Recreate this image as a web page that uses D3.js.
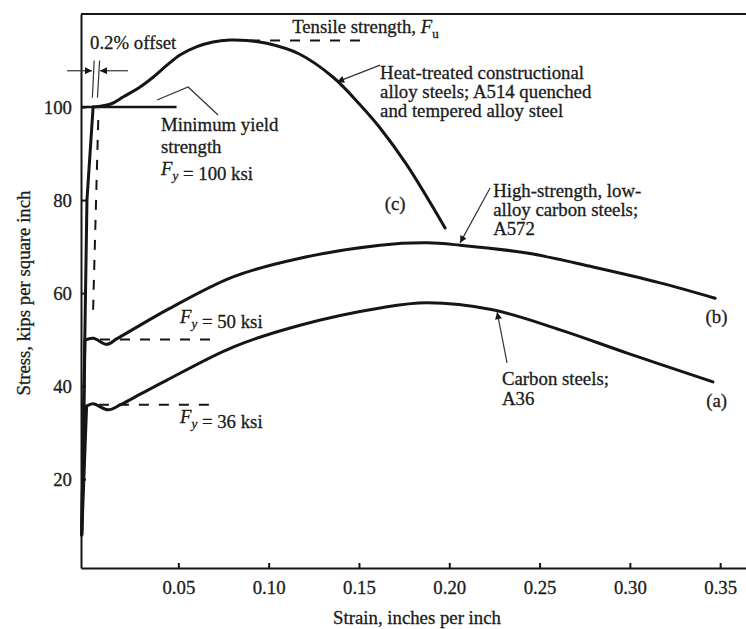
<!DOCTYPE html>
<html>
<head>
<meta charset="utf-8">
<script src="https://cdn.jsdelivr.net/npm/d3@7/dist/d3.min.js"></script>
<style>
  body { margin: 0; background: #fff; }
  svg text { font-family: "Liberation Serif", "Times New Roman", serif; font-size: 18.8px; fill: #1b1b1b; stroke: #1b1b1b; stroke-width: 0.3px; }
</style>
</head>
<body>
<div id="chart"></div>
<script>
// Strain (in/in) vs stress (ksi)
var xTicks = [0.05, 0.10, 0.15, 0.20, 0.25, 0.30, 0.35];
var yTicks = [20, 40, 60, 80, 100];

// (a) carbon steel A36
var elasticA = [[-0.0035, 8], [-0.0008, 35.7]];
var plasticA = [[-0.0008, 35.7], [0.0028, 36.2], [0.0111, 34.9], [0.018, 36.0], [0.03, 38.5],
  [0.0437, 41.3], [0.0803, 48.4], [0.1174, 53.1], [0.1617, 56.8], [0.1877, 57.9],
  [0.224, 56.4], [0.2614, 52.1], [0.2985, 47.1], [0.346, 40.9]];

// (b) high-strength low-alloy A572
var elasticB = [[-0.0035, 8], [-0.0017, 49.9]];
var plasticB = [[-0.0017, 49.9], [0.0029, 50.3], [0.0104, 49.0], [0.016, 50.2], [0.028, 52.9],
  [0.0437, 56.4], [0.0803, 63.5], [0.1174, 67.5], [0.1617, 70.3], [0.1877, 70.8],
  [0.206, 70.3], [0.243, 68.6], [0.2796, 65.6], [0.3167, 62.2], [0.3472, 58.9]];

// (c) quenched and tempered A514
var elasticC = [[-0.0035, 8], [-0.0022, 40], [-0.0006, 80], [0.0028, 100]];
var plasticC = [[0.0028, 100], [0.0122, 100.6], [0.0196, 102.2], [0.0288, 104.3], [0.036, 106.4],
  [0.0437, 109.0], [0.0509, 111.2], [0.0603, 113.0], [0.0692, 114.0], [0.0786, 114.4],
  [0.088, 114.3], [0.099, 113.7], [0.117, 111.4], [0.1357, 106.4], [0.1506, 100.5],
  [0.1617, 95.5], [0.1766, 87.5], [0.1977, 74.0]];

// reference lines
var yieldLine = [[-0.0039, 100], [0.049, 100]];
var dashedLines = [
  [[0.0897, 114.3], [0.1506, 114.3]],   // tensile strength
  [[0.0066, 50], [0.0714, 50]],         // Fy = 50
  [[0.006, 36], [0.0714, 36]],          // Fy = 36
  [[0.0028, 56.4], [0.0058, 99.4]]      // 0.2% offset line
];

// leaders: thin lines, some with arrowheads
var leaders = [
  { pts: [[0.1617, 109.0], [0.1379, 105.4]], arrow: true },
  { pts: [[0.2226, 82.6], [0.206, 70.8]], arrow: true },
  { pts: [[0.232, 45.0], [0.2265, 55.9]], arrow: true },
  { pts: [[0.0382, 101.5], [0.0554, 104.3], [0.0720, 98.3]], arrow: false },
  { pts: [[-0.0116, 107.8], [0.0022, 107.8]], arrow: true },
  { pts: [[0.0221, 107.8], [0.0066, 107.8]], arrow: true },
  { pts: [[0.0024, 102], [0.0034, 110]], arrow: false },
  { pts: [[0.0052, 102], [0.0064, 110]], arrow: false }
];

// text blocks: position (strain, stress) of first baseline, line step in px
var notes = [
  { x: 0.0011, y: 112.5, lines: [[{ t: "0.2% offset" }]] },
  { x: 0.113, y: 115.9, lines: [[{ t: "Tensile strength, " }, { t: "F", i: true }, { t: "u", sub: true }]] },
  { x: 0.1617, y: 106.0, lines: [[{ t: "Heat-treated constructional" }], [{ t: "alloy steels; A514 quenched" }], [{ t: "and tempered alloy steel" }]] },
  { x: 0.0404, y: 94.8, step: 22, lines: [[{ t: "Minimum yield" }], [{ t: "strength" }], [{ t: "F", i: true }, { t: "y", i: true, sub: true }, { t: " = 100 ksi" }]] },
  { x: 0.2243, y: 80.6, lines: [[{ t: "High-strength, low-" }], [{ t: "alloy carbon steels;" }], [{ t: "A572" }]] },
  { x: 0.0509, y: 53.6, lines: [[{ t: "F", i: true }, { t: "y", i: true, sub: true }, { t: " = 50 ksi" }]] },
  { x: 0.0509, y: 32.1, lines: [[{ t: "F", i: true }, { t: "y", i: true, sub: true }, { t: " = 36 ksi" }]] },
  { x: 0.2292, y: 40.2, step: 20, lines: [[{ t: "Carbon steels;" }], [{ t: "A36" }]] },
  { x: 0.17, y: 77.9, anchor: "middle", lines: [[{ t: "(c)" }]] },
  { x: 0.348, y: 53.6, anchor: "middle", lines: [[{ t: "(b)" }]] },
  { x: 0.348, y: 35.5, anchor: "middle", lines: [[{ t: "(a)" }]] }
];

var width = 746, height = 629;
var svg = d3.select("#chart").append("svg").attr("width", width).attr("height", height);

var x = d3.scaleLinear().domain([-0.0039, 0.3643]).range([81, 746]);
var y = d3.scaleLinear().domain([0.9, 120]).range([568, 14]);

var ink = "#151515";

svg.append("defs").append("marker")
  .attr("id", "arrow")
  .attr("viewBox", "0 0 10 10")
  .attr("refX", 10).attr("refY", 5)
  .attr("markerWidth", 9).attr("markerHeight", 7)
  .attr("markerUnits", "userSpaceOnUse")
  .attr("orient", "auto")
  .append("path").attr("d", "M0,0L10,5L0,10z").attr("fill", ink);

// axes
var xAxis = d3.axisBottom(x).tickValues(xTicks).tickFormat(d3.format(".2f"))
  .tickSizeInner(-5).tickSizeOuter(0).tickPadding(13);
var yAxis = d3.axisLeft(y).tickValues(yTicks)
  .tickSizeInner(-5).tickSizeOuter(0).tickPadding(9);

var xg = svg.append("g").attr("transform", "translate(0,568)").call(xAxis);
var yg = svg.append("g").attr("transform", "translate(81,0)").call(yAxis);
[xg, yg].forEach(function(g) {
  g.select(".domain").attr("stroke", ink).attr("stroke-width", 2);
  g.selectAll(".tick line").attr("stroke", ink).attr("stroke-width", 2);
  g.selectAll(".tick text").attr("fill", "#1b1b1b").style("font-size", "18.8px")
    .style("font-family", '"Liberation Serif", serif');
});

// top frame line
svg.append("line")
  .attr("x1", x.range()[0]).attr("x2", x.range()[1])
  .attr("y1", y.range()[1]).attr("y2", y.range()[1])
  .attr("stroke", ink).attr("stroke-width", 2);

// axis titles
svg.append("text").attr("transform", "translate(30,293) rotate(-90)")
  .attr("text-anchor", "middle").text("Stress, kips per square inch");
svg.append("text").attr("x", 417).attr("y", 624)
  .attr("text-anchor", "middle").text("Strain, inches per inch");

var straight = d3.line().x(function(d) { return x(d[0]); }).y(function(d) { return y(d[1]); });
var smooth = d3.line().x(function(d) { return x(d[0]); }).y(function(d) { return y(d[1]); })
  .curve(d3.curveCatmullRom.alpha(0.5));

// dashed reference lines
svg.selectAll(".dash").data(dashedLines).enter().append("path")
  .attr("class", "dash")
  .attr("d", straight)
  .attr("fill", "none").attr("stroke", ink).attr("stroke-width", 2)
  .attr("stroke-dasharray", "10,10");

// leaders
svg.selectAll(".leader").data(leaders).enter().append("path")
  .attr("class", "leader")
  .attr("d", function(d) { return straight(d.pts); })
  .attr("fill", "none").attr("stroke", "#333").attr("stroke-width", 1.2)
  .attr("marker-end", function(d) { return d.arrow ? "url(#arrow)" : null; });

// minimum yield line
svg.append("path").datum(yieldLine).attr("d", straight)
  .attr("fill", "none").attr("stroke", ink).attr("stroke-width", 2.5);

// stress-strain curves
[elasticA, elasticB, elasticC].forEach(function(pts) {
  svg.append("path").datum(pts).attr("d", straight)
    .attr("fill", "none").attr("stroke", ink).attr("stroke-width", 3)
    .attr("stroke-linecap", "round");
});
[plasticA, plasticB, plasticC].forEach(function(pts) {
  svg.append("path").datum(pts).attr("d", smooth)
    .attr("fill", "none").attr("stroke", ink).attr("stroke-width", 3)
    .attr("stroke-linecap", "round").attr("stroke-linejoin", "round");
});

// annotation text
notes.forEach(function(n) {
  var step = n.step || 19;
  n.lines.forEach(function(parts, li) {
    var t = svg.append("text")
      .attr("x", x(n.x)).attr("y", y(n.y) + li * step)
      .attr("text-anchor", n.anchor || "start");
    parts.forEach(function(p) {
      var s = t.append("tspan").text(p.t);
      if (p.i) s.style("font-style", "italic");
      if (p.sub) {
        s.attr("dy", 5).style("font-size", "13px");
        t.append("tspan").attr("dy", -5).text("");
      }
    });
  });
});
</script>
</body>
</html>
